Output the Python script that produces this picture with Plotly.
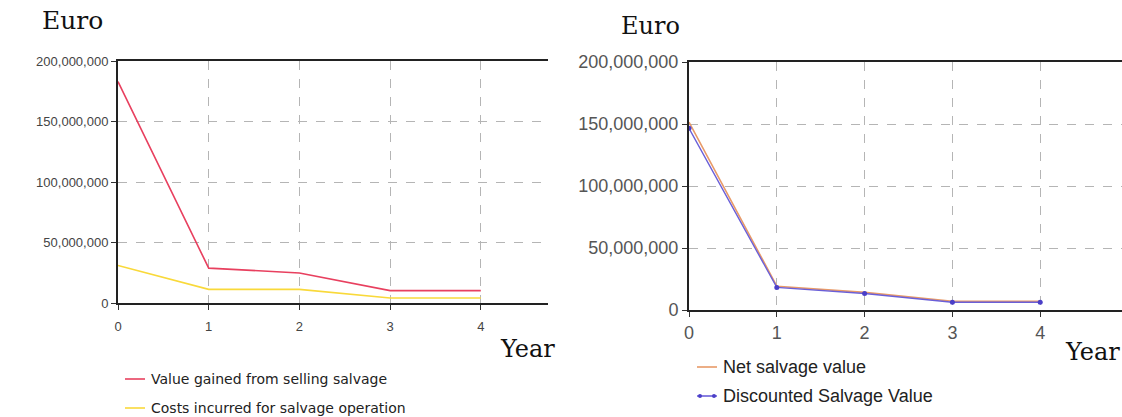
import plotly.graph_objects as go

W, H = 1122, 417

years = [0, 1, 2, 3, 4]
value_gained = [183_000_000, 28_800_000, 24_800_000, 10_200_000, 10_200_000]
costs_incurred = [31_000_000, 11_300_000, 11_300_000, 4_100_000, 4_100_000]
net_salvage = [151_500_000, 19_200_000, 14_200_000, 7_100_000, 7_100_000]
discounted_salvage = [146_500_000, 18_200_000, 13_300_000, 6_200_000, 6_200_000]

y_ticks = [0, 50_000_000, 100_000_000, 150_000_000, 200_000_000]
y_tick_text = ["0", "50,000,000", "100,000,000", "150,000,000", "200,000,000"]

TICK_FONT = "Liberation Sans, Arial, sans-serif"
LEGEND_FONT = "DejaVu Sans, Verdana, sans-serif"
SERIF = "DejaVu Serif, Liberation Serif, serif"


def px_x(p):
    return p / W


def px_y(p):
    return 1 - p / H


fig = go.Figure()

# Left panel: salvage revenue vs. operation costs
fig.add_trace(go.Scatter(x=years, y=value_gained, mode="lines",
                         line=dict(color="#e8405f", width=1.6),
                         xaxis="x", yaxis="y", showlegend=False))
fig.add_trace(go.Scatter(x=years, y=costs_incurred, mode="lines",
                         line=dict(color="#f9d93a", width=1.6),
                         xaxis="x", yaxis="y", showlegend=False))

# Right panel: net and discounted salvage value
fig.add_trace(go.Scatter(x=years, y=net_salvage, mode="lines",
                         line=dict(color="#e89a68", width=1.6),
                         xaxis="x2", yaxis="y2", showlegend=False))
fig.add_trace(go.Scatter(x=years, y=discounted_salvage, mode="lines+markers",
                         line=dict(color="#6a5fd8", width=1.4),
                         marker=dict(color="#4b3fc8", size=5),
                         xaxis="x2", yaxis="y2", showlegend=False))

grid = dict(showgrid=True, gridcolor="#b5b5b5", griddash="dash", gridwidth=1)

common_x = dict(tickmode="array", tickvals=years, ticks="outside", ticklen=5,
                tickcolor="#333", showline=True, linecolor="#222", linewidth=2,
                mirror=True, zeroline=False, **grid)
common_y = dict(tickmode="array", tickvals=y_ticks, ticktext=y_tick_text,
                ticks="outside", ticklen=5, tickcolor="#333", showline=True,
                linecolor="#222", linewidth=2, zeroline=False, range=[0, 200_000_000],
                **grid)

fig.update_layout(
    width=W, height=H, margin=dict(l=0, r=0, t=0, b=0, autoexpand=False),
    paper_bgcolor="white", plot_bgcolor="white",
    xaxis=dict(domain=[px_x(118), px_x(548)], range=[0, (548 - 118) / 90.7],
               anchor="y", ticklabelstandoff=5,
               tickfont=dict(family=TICK_FONT, size=13, color="#444"), **common_x),
    yaxis=dict(domain=[px_y(303), px_y(61)], anchor="x",
               tickfont=dict(family=TICK_FONT, size=13, color="#444"), **common_y),
    xaxis2=dict(domain=[px_x(689), 1.0], range=[0, (1122 - 689) / 87.8],
                anchor="y2", ticklabelstandoff=0,
                tickfont=dict(family=TICK_FONT, size=18, color="#555"), **common_x),
    yaxis2=dict(domain=[px_y(310), px_y(62)], anchor="x2",
                tickfont=dict(family=TICK_FONT, size=18, color="#555"), **common_y),
)

# Axis titles
for txt, x, y, size in [("Euro", 72, 20, 25), ("Year", 527, 349, 24),
                        ("Euro", 650, 26, 24), ("Year", 1092, 352, 24)]:
    fig.add_annotation(text=txt, x=px_x(x), y=px_y(y), xref="paper", yref="paper",
                       showarrow=False, xanchor="center", yanchor="middle",
                       font=dict(family=SERIF, size=size, color="#111"))

# Legend entries
legend_items = [
    (125, 145, 379, "#e8405f", False, "Value gained from selling salvage", 14),
    (125, 145, 408, "#f9d93a", False, "Costs incurred for salvage operation", 14),
    (697, 717, 367, "#e89a68", False, "Net salvage value", 18),
    (697, 717, 396, "#6a5fd8", True, "Discounted Salvage Value", 18),
]
for x0, x1, y, color, dots, label, fs in legend_items:
    fig.add_shape(type="line", xref="paper", yref="paper",
                  x0=px_x(x0), x1=px_x(x1), y0=px_y(y), y1=px_y(y),
                  line=dict(color=color, width=1.6))
    if dots:
        for xd in (x0 + 3, x1 - 3):
            fig.add_shape(type="circle", xref="paper", yref="paper",
                          x0=px_x(xd - 2), x1=px_x(xd + 2),
                          y0=px_y(y + 2), y1=px_y(y - 2),
                          fillcolor="#4b3fc8", line=dict(width=0))
    font_family = LEGEND_FONT if fs < 16 else TICK_FONT
    fig.add_annotation(text=label, x=px_x(x1 + 4), y=px_y(y), xref="paper",
                       yref="paper", showarrow=False, xanchor="left",
                       yanchor="middle",
                       font=dict(family=font_family, size=fs, color="#222"))

fig.write_html("out.html")
